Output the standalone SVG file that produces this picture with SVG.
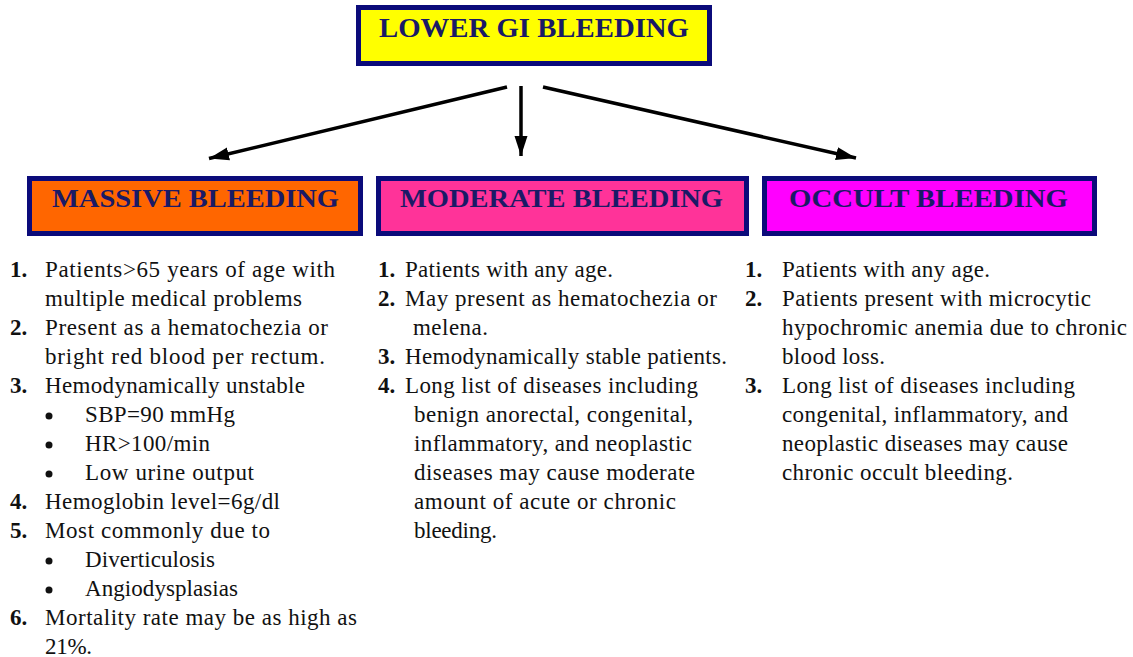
<svg xmlns="http://www.w3.org/2000/svg" width="1133" height="657" viewBox="0 0 1133 657">
<style>
.box{stroke:#0b0b7a;stroke-width:5}
.hd{font-family:'Liberation Serif','DejaVu Serif','Times New Roman',serif;font-weight:bold;fill:#1a1a66;text-anchor:middle}
.t{font-family:'Liberation Serif','DejaVu Serif','Times New Roman',serif;font-size:23px;fill:#111}
.n{font-family:'Liberation Serif','DejaVu Serif','Times New Roman',serif;font-size:23px;font-weight:bold;fill:#111}
.con{stroke:#000;stroke-width:3.5;fill:none}
</style>
<defs>
<marker id="ah" markerUnits="userSpaceOnUse" markerWidth="22" markerHeight="16" refX="20" refY="8" orient="auto">
<path d="M0,1.5 L20,8 L0,14.5 Z" fill="#000"/>
</marker>
</defs>
<rect width="1133" height="657" fill="#fff"/>
<g id="connectors">
<line class="con" x1="507" y1="87" x2="209" y2="158.5" marker-end="url(#ah)"/>
<line class="con" x1="521" y1="86" x2="521" y2="156" marker-end="url(#ah)"/>
<line class="con" x1="543" y1="87" x2="856" y2="158" marker-end="url(#ah)"/>
</g>
<g id="lower-gi" font-family="Liberation Serif, serif">
<rect class="box" x="358.5" y="7.5" width="351" height="56" fill="#ffff00"/>
<text class="hd" x="534" y="37" font-size="27" textLength="310" lengthAdjust="spacingAndGlyphs">LOWER GI BLEEDING</text>
</g>
<g id="massive" font-family="Liberation Serif, serif">
<rect class="box" x="29.5" y="178.5" width="331" height="55" fill="#ff6600"/>
<text class="hd" x="195.5" y="207" font-size="26" textLength="287" lengthAdjust="spacingAndGlyphs">MASSIVE BLEEDING</text>
</g>
<g id="moderate" font-family="Liberation Serif, serif">
<rect class="box" x="378.5" y="178.5" width="368" height="55" fill="#ff3399"/>
<text class="hd" x="561.5" y="207" font-size="26" textLength="323" lengthAdjust="spacingAndGlyphs">MODERATE BLEEDING</text>
</g>
<g id="occult" font-family="Liberation Serif, serif">
<rect class="box" x="764.5" y="178.5" width="330" height="55" fill="#ff00ff"/>
<text class="hd" x="928.5" y="207" font-size="26" textLength="279" lengthAdjust="spacingAndGlyphs">OCCULT BLEEDING</text>
</g>
<g id="massive-list" font-family="Liberation Serif, serif">
<text class="n" x="10" y="277">1.</text>
<text class="t" x="45" y="277" textLength="290">Patients&gt;65 years of age with</text>
<text class="t" x="45" y="306" textLength="257">multiple medical problems</text>
<text class="n" x="10" y="335">2.</text>
<text class="t" x="45" y="335" textLength="283">Present as a hematochezia or</text>
<text class="t" x="45" y="364" textLength="280">bright red blood per rectum.</text>
<text class="n" x="10" y="393">3.</text>
<text class="t" x="45" y="393" textLength="260">Hemodynamically unstable</text>
<circle cx="49" cy="416" r="3.5" fill="#111"/>
<text class="t" x="85" y="422" textLength="150">SBP=90 mmHg</text>
<circle cx="49" cy="445" r="3.5" fill="#111"/>
<text class="t" x="85" y="451" textLength="125">HR&gt;100/min</text>
<circle cx="49" cy="474" r="3.5" fill="#111"/>
<text class="t" x="85" y="480" textLength="169">Low urine output</text>
<text class="n" x="10" y="509">4.</text>
<text class="t" x="45" y="509" textLength="235">Hemoglobin level=6g/dl</text>
<text class="n" x="10" y="538">5.</text>
<text class="t" x="45" y="538" textLength="225">Most commonly due to</text>
<circle cx="49" cy="561" r="3.5" fill="#111"/>
<text class="t" x="85" y="567" textLength="130">Diverticulosis</text>
<circle cx="49" cy="590" r="3.5" fill="#111"/>
<text class="t" x="85" y="596" textLength="153">Angiodysplasias</text>
<text class="n" x="10" y="625">6.</text>
<text class="t" x="45" y="625" textLength="312">Mortality rate may be as high as</text>
<text class="t" x="45" y="654" textLength="47">21%.</text>
</g>
<g id="moderate-list" font-family="Liberation Serif, serif">
<text class="n" x="378" y="277">1.</text>
<text class="t" x="405" y="277" textLength="208">Patients with any age.</text>
<text class="n" x="378" y="306">2.</text>
<text class="t" x="405" y="306" textLength="312">May present as hematochezia or</text>
<text class="t" x="413" y="335" textLength="75">melena.</text>
<text class="n" x="378" y="364">3.</text>
<text class="t" x="405" y="364" textLength="322">Hemodynamically stable patients.</text>
<text class="n" x="378" y="393">4.</text>
<text class="t" x="405" y="393" textLength="293">Long list of diseases including</text>
<text class="t" x="414" y="422" textLength="279">benign anorectal, congenital,</text>
<text class="t" x="414" y="451" textLength="278">inflammatory, and neoplastic</text>
<text class="t" x="414" y="480" textLength="281">diseases may cause moderate</text>
<text class="t" x="414" y="509" textLength="262">amount of acute or chronic</text>
<text class="t" x="414" y="538" textLength="83">bleeding.</text>
</g>
<g id="occult-list" font-family="Liberation Serif, serif">
<text class="n" x="745" y="277">1.</text>
<text class="t" x="782" y="277" textLength="208">Patients with any age.</text>
<text class="n" x="745" y="306">2.</text>
<text class="t" x="782" y="306" textLength="309">Patients present with microcytic</text>
<text class="t" x="782" y="335" textLength="345">hypochromic anemia due to chronic</text>
<text class="t" x="782" y="364" textLength="103">blood loss.</text>
<text class="n" x="745" y="393">3.</text>
<text class="t" x="782" y="393" textLength="293">Long list of diseases including</text>
<text class="t" x="782" y="422" textLength="286">congenital, inflammatory, and</text>
<text class="t" x="782" y="451" textLength="286">neoplastic diseases may cause</text>
<text class="t" x="782" y="480" textLength="231">chronic occult bleeding.</text>
</g>
</svg>
